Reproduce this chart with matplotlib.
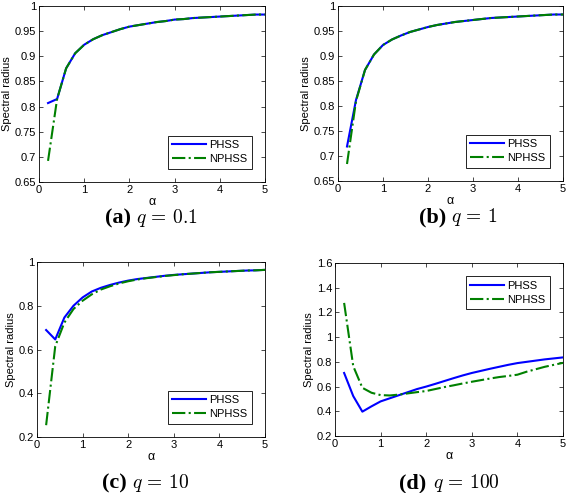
import matplotlib
matplotlib.use("Agg")
import matplotlib.pyplot as plt
from matplotlib.ticker import FormatStrFormatter

plt.rcParams['font.family'] = ['Liberation Sans', 'DejaVu Sans']
plt.rcParams['mathtext.fontset'] = 'cm'

# alpha values (x axis)
alpha = [0.2, 0.4, 0.6, 0.8, 1.0, 1.2, 1.4, 1.6, 1.8, 2.0, 2.2, 2.4, 2.6,
         2.8, 3.0, 3.2, 3.4, 3.6, 3.8, 4.0, 4.2, 4.4, 4.6, 4.8, 5.0]

# (a) q = 0.1
phss_a = [0.807, 0.815, 0.876, 0.906, 0.923, 0.934, 0.942, 0.948, 0.954, 0.959,
          0.962, 0.965, 0.968, 0.970, 0.973, 0.974, 0.976, 0.977, 0.978, 0.979,
          0.980, 0.981, 0.982, 0.983, 0.983]
nphss_a = [0.692, 0.815, 0.876, 0.906, 0.923, 0.934, 0.942, 0.948, 0.954, 0.959,
           0.962, 0.965, 0.968, 0.970, 0.973, 0.974, 0.976, 0.977, 0.978, 0.979,
           0.980, 0.981, 0.982, 0.983, 0.983]

# (b) q = 1
phss_b = [0.719, 0.812, 0.872, 0.903, 0.922, 0.933, 0.941, 0.948, 0.953, 0.958,
          0.962, 0.965, 0.968, 0.970, 0.972, 0.974, 0.976, 0.977, 0.978, 0.979,
          0.980, 0.981, 0.982, 0.983, 0.983]
nphss_b = [0.684, 0.810, 0.872, 0.903, 0.922, 0.933, 0.941, 0.948, 0.953, 0.958,
           0.962, 0.965, 0.968, 0.970, 0.972, 0.974, 0.976, 0.977, 0.978, 0.979,
           0.980, 0.981, 0.982, 0.983, 0.983]

# (c) q = 10
phss_c = [0.689, 0.646, 0.746, 0.800, 0.838, 0.865, 0.882, 0.895, 0.906, 0.915,
          0.922, 0.927, 0.932, 0.937, 0.941, 0.944, 0.947, 0.950, 0.953, 0.955,
          0.957, 0.959, 0.961, 0.962, 0.964]
nphss_c = [0.254, 0.615, 0.723, 0.785, 0.823, 0.852, 0.874, 0.889, 0.902, 0.912,
           0.920, 0.926, 0.931, 0.936, 0.940, 0.944, 0.947, 0.950, 0.953, 0.955,
           0.957, 0.959, 0.961, 0.962, 0.964]

# (d) q = 100
phss_d = [0.710, 0.523, 0.397, 0.440, 0.480, 0.505, 0.530, 0.555, 0.580, 0.600,
          0.622, 0.645, 0.668, 0.690, 0.710, 0.727, 0.744, 0.760, 0.776, 0.790,
          0.800, 0.810, 0.820, 0.828, 0.836]
nphss_d = [1.277, 0.765, 0.590, 0.550, 0.531, 0.528, 0.535, 0.545, 0.555, 0.564,
           0.580, 0.596, 0.610, 0.625, 0.639, 0.652, 0.665, 0.677, 0.686, 0.696,
           0.720, 0.740, 0.760, 0.776, 0.792]

panel_tags = ['(a)', '(b)', '(c)', '(d)']
q_texts = [r'$q\,=\,0.1$', r'$q\,=\,1$', r'$q\,=\,10$', r'$q\,=\,100$']

W, H = 568, 493
fig = plt.figure(figsize=(W / 100, H / 100), dpi=100)

# axes boxes in pixels: left, top, right, bottom
boxes = [(39, 6, 265, 182), (338, 6, 563, 181),
         (37, 262, 265, 437), (335, 263, 563, 436)]
ylims = [(0.65, 1), (0.65, 1), (0.2, 1), (0.2, 1.6)]
ysteps = [0.05, 0.05, 0.2, 0.2]
legpos = ['lower right', 'lower right', 'lower right', 'upper right']
# caption: right edge of tag, left edge of math, centre y (pixels)
cap_pos = [(131, 136, 218), (446, 451, 217), (127, 132, 483), (426, 433, 483)]
data = [(phss_a, nphss_a), (phss_b, nphss_b), (phss_c, nphss_c), (phss_d, nphss_d)]

for i in range(4):
    l, t, r, b = boxes[i]
    ax = fig.add_axes([l / W, 1 - b / H, (r - l) / W, (b - t) / H])
    p, n = data[i]
    ax.plot(alpha, p, color=(0, 0, 1), lw=1.5, label='PHSS')
    ax.plot(alpha, n, color=(0, 0.5, 0), lw=1.5, ls='-.', label='NPHSS')
    ax.set_xlim(0, 5)
    ax.set_ylim(*ylims[i])
    ax.set_xticks(range(6))
    lo, hi = ylims[i]
    k = round((hi - lo) / ysteps[i])
    ax.set_yticks([lo + j * ysteps[i] for j in range(k + 1)])
    ax.yaxis.set_major_formatter(FormatStrFormatter('%g'))
    ax.tick_params(direction='in', top=True, right=True, labelsize=8,
                   length=3, width=0.5, pad=2)
    for s in ax.spines.values():
        s.set_linewidth(0.6)
    ax.set_xlabel('α', fontsize=9, labelpad=1)
    ax.set_ylabel('Spectral radius', fontsize=8, labelpad=2)
    leg = ax.legend(loc=legpos[i], fontsize=8, fancybox=False, framealpha=1,
                    edgecolor='black', handlelength=3, borderaxespad=1.2,
                    borderpad=0.4, labelspacing=0.35, handletextpad=0.3)
    leg.get_frame().set_linewidth(0.6)
    tx, qx, cy = cap_pos[i]
    fig.text(tx / W, 1 - cy / H, panel_tags[i], fontsize=16,
             fontweight='bold', family='Liberation Serif', ha='right', va='center')
    fig.text(qx / W, 1 - cy / H, q_texts[i], fontsize=14,
             ha='left', va='center')

fig.savefig('out.png', dpi=100)
